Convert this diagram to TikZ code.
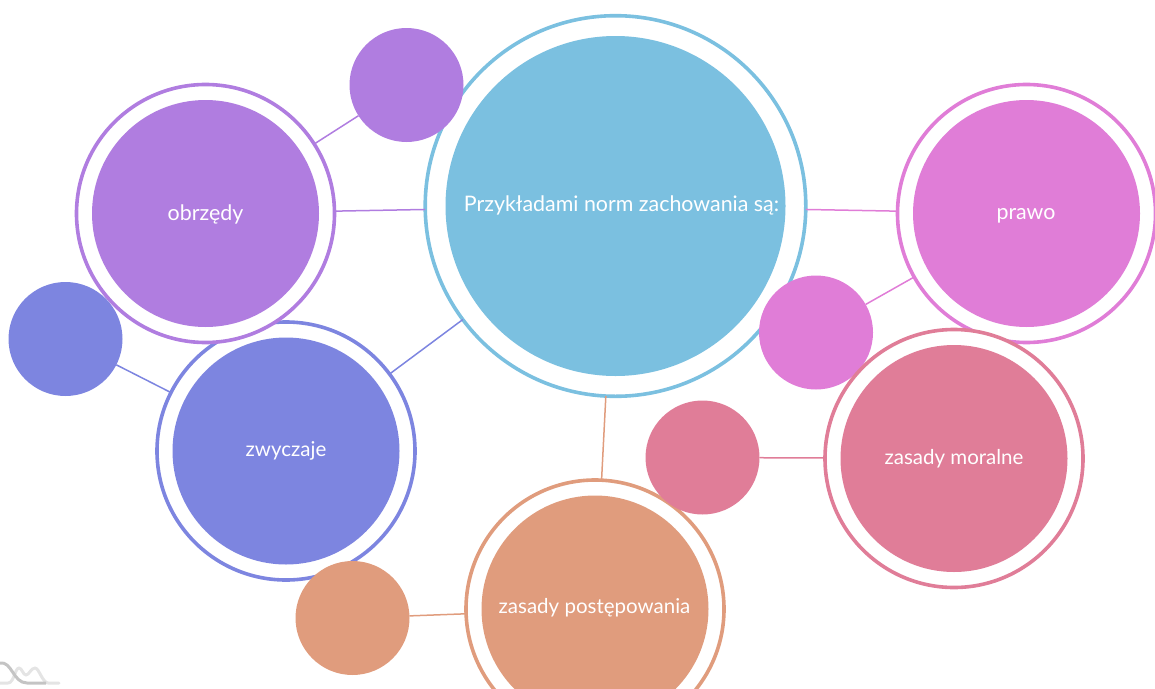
\documentclass[tikz,border=0pt]{standalone}
\usepackage{fontspec}
\setmainfont{Lato}
\definecolor{cmain}{HTML}{7BC0E0}
\definecolor{cpurple}{HTML}{B07DE0}
\definecolor{cblue}{HTML}{7D85E0}
\definecolor{cpink}{HTML}{E07DD7}
\definecolor{crose}{HTML}{E07D98}
\definecolor{corange}{HTML}{E09C7D}
\definecolor{clogod}{HTML}{C4C4C4}
\definecolor{clogol}{HTML}{E4E4E4}
\tikzset{
  ringbig/.style={circle,draw=#1,fill=white,line width=3.6pt,minimum size=258pt,inner sep=0pt,outer sep=0pt},
  fillbig/.style={circle,fill=#1,minimum size=227pt,inner sep=0pt,outer sep=0pt},
  fillsmall/.style={circle,fill=#1,minimum size=114pt,inner sep=0pt,outer sep=0pt},
  lbl/.style={text=white,font=\fontsize{21.4}{25}\selectfont,inner sep=0pt},
  lblsm/.style={text=white,font=\fontsize{20.5}{25}\selectfont,inner sep=0pt},
  conn/.style={draw=#1,line width=1.5pt},
}
\begin{document}
\begin{tikzpicture}[x=1pt,y=-1pt]
\useasboundingbox (0,0) rectangle (1155,688);
\clip (0,0) rectangle (1155,688);
% central
\node[ringbig=cmain,minimum size=380.6pt] (mainring) at (615.5,206) {};
\node[fillbig=cmain,minimum size=340pt] (mainfill) at (615.5,206) {};
% zwyczaje
\node[ringbig=cblue] (zwring) at (286,451) {};
\node[fillbig=cblue] (zwfill) at (286,451) {};
% obrzedy
\node[ringbig=cpurple] (obring) at (205.5,213.5) {};
\node[fillbig=cpurple] (obfill) at (205.5,213.5) {};
% prawo
\node[ringbig=cpink] (prring) at (1026.5,213.5) {};
\node[fillbig=cpink] (prfill) at (1026.5,213.5) {};
% postepowanie
\node[ringbig=corange] (poring) at (595,609) {};
\node[fillbig=corange] (pofill) at (595,609) {};
% small circles
\node[fillsmall=cpurple] (obsmall) at (406.5,85) {};
\node[fillsmall=cblue] (zwsmall) at (65.5,339) {};
\node[fillsmall=cpink] (prsmall) at (816,332.5) {};
\node[fillsmall=crose] (mosmall) at (702.5,457.5) {};
\node[fillsmall=corange] (posmall) at (352.5,618) {};
% moralne
\node[ringbig=crose] (moring) at (954,458.5) {};
\node[fillbig=crose] (mofill) at (954,458.5) {};
% labels
\node[lbl] (mainlbl) at (621.5,205) {Przykładami norm zachowania są:};
\node[lbl] (oblbl) at (205.5,214) {obrzędy};
\node[lblsm] (zwlbl) at (286,451) {zwyczaje};
\node[lbl] (prlbl) at (1026,215.5) {prawo};
\node[lblsm] (molbl) at (954,459) {zasady moralne};
\node[lblsm] (polbl) at (594.5,608) {zasady postępowania};
% connectors
\draw[conn=cpurple] (obring) -- (mainring);
\draw[conn=cpurple] (obring) -- (obsmall);
\draw[conn=cblue] (zwring) -- (mainring);
\draw[conn=cblue] (zwring) -- (zwsmall);
\draw[conn=cpink] (prring) -- (mainring);
\draw[conn=cpink] (prring) -- (prsmall);
\draw[conn=crose] (moring) -- (mosmall);
\draw[conn=corange] (poring) -- (mainring);
\draw[conn=corange] (poring) -- (posmall);
% logo
\draw[clogol,line width=3pt,line cap=round,line join=round] (0,683) -- (8,683) .. controls (14,683) and (15,668) .. (19,668) .. controls (22,668) and (23,675) .. (26,675) .. controls (29,675) and (31,668) .. (35,668) .. controls (39,668) and (42,682) .. (48,683) -- (59,683);
\draw[clogod,line width=3pt] (0,663) .. controls (12,661) and (13,683) .. (27,683) -- (46,683);
\end{tikzpicture}
\end{document}
